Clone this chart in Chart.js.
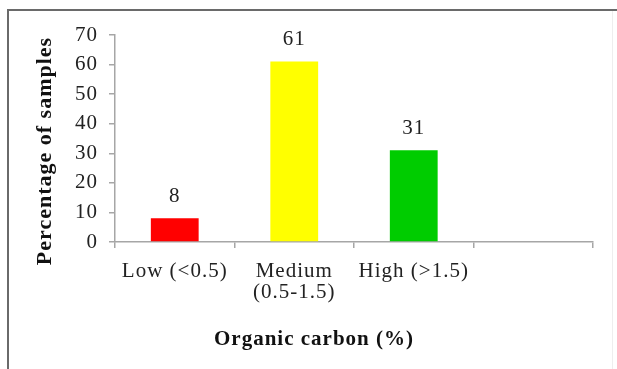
<!DOCTYPE html>
<html>
<head>
<meta charset="utf-8">
<script src="https://cdn.jsdelivr.net/npm/chart.js@4"></script>
<style>
  html, body { margin: 0; padding: 0; background: #fff; }
  #wrap { width: 617px; height: 369px; position: relative; }
</style>
</head>
<body>
<div id="wrap"><canvas id="chart" width="617" height="369"></canvas></div>
<script>
// Organic carbon classes (last slot is an empty category)
const categories = ['Low (<0.5)', ['Medium', '(0.5-1.5)'], 'High (>1.5)', ''];
const percentages = [8, 61, 31, null];
const barColors = ['#ff0000', '#ffff00', '#00cc00', '#ffffff'];
const yTicks = [0, 10, 20, 30, 40, 50, 60, 70];
const xTitle = 'Organic carbon (%)';
const yTitle = 'Percentage of samples';

const SERIF = '"Liberation Serif", "Times New Roman", serif';
const AXIS_GREY = '#a6a6a6';

// Letter spacing for all canvas text
const spacingPlugin = {
  id: 'spacing',
  beforeLayout(chart) { chart.ctx.letterSpacing = '1px'; },
  beforeDraw(chart) { chart.ctx.letterSpacing = '1px'; }
};

// Frame lines, axis titles and value labels
const decorPlugin = {
  id: 'decor',
  beforeDraw(chart) {
    const ctx = chart.ctx;
    ctx.save();
    ctx.fillStyle = '#fff';
    ctx.fillRect(0, 0, chart.width, chart.height);
    ctx.strokeStyle = '#6a6a6a';
    ctx.lineWidth = 2;
    ctx.beginPath();
    ctx.moveTo(8, 369);
    ctx.lineTo(8, 10);
    ctx.lineTo(617, 10);
    ctx.stroke();
    ctx.strokeStyle = '#eeeeee';
    ctx.lineWidth = 1;
    ctx.beginPath();
    ctx.moveTo(612.5, 11);
    ctx.lineTo(612.5, 369);
    ctx.stroke();
    ctx.restore();
  },
  afterDraw(chart) {
    const ctx = chart.ctx;
    ctx.save();
    ctx.letterSpacing = '1px';
    ctx.fillStyle = '#111';
    ctx.textAlign = 'center';
    ctx.textBaseline = 'middle';
    ctx.font = 'bold 21px ' + SERIF;
    ctx.fillText(xTitle, 314, 340);
    ctx.save();
    ctx.translate(45, 151);
    ctx.rotate(-Math.PI / 2);
    ctx.font = 'bold 22px ' + SERIF;
    ctx.fillText(yTitle, 0, 0);
    ctx.restore();

    ctx.font = '21px ' + SERIF;
    ctx.fillStyle = '#222';
    const meta = chart.getDatasetMeta(0);
    meta.data.forEach((bar, i) => {
      const v = percentages[i];
      if (v === null || v === undefined) return;
      ctx.fillText(String(v), bar.x, bar.y - 22);
    });
    ctx.restore();
  }
};

new Chart(document.getElementById('chart'), {
  type: 'bar',
  data: {
    labels: categories,
    datasets: [{
      data: percentages,
      backgroundColor: barColors,
      borderWidth: 0,
      barPercentage: 0.4,
      categoryPercentage: 1.0
    }]
  },
  options: {
    responsive: false,
    animation: false,
    devicePixelRatio: 1,
    layout: { padding: { left: 10, right: 24, top: 35, bottom: 0 } },
    plugins: { legend: { display: false }, tooltip: { enabled: false } },
    scales: {
      x: {
        afterFit(scale) { scale.height = 127; },
        grid: { display: true, offset: true, drawOnChartArea: false, tickLength: 6, color: AXIS_GREY, lineWidth: 1.5 },
        border: { display: true, color: AXIS_GREY, width: 1.5 },
        ticks: {
          color: '#222',
          padding: 13,
          maxRotation: 0,
          autoSkip: false,
          font: { family: SERIF, size: 21, lineHeight: 1.0 }
        }
      },
      y: {
        min: 0,
        max: 70,
        afterFit(scale) { scale.width = 105; },
        afterBuildTicks(scale) { scale.ticks = yTicks.map(v => ({ value: v })); },
        grid: { display: true, drawOnChartArea: false, tickLength: 6, color: AXIS_GREY, lineWidth: 1.5 },
        border: { display: true, color: AXIS_GREY, width: 1.5 },
        ticks: {
          color: '#222',
          padding: 11,
          font: { family: SERIF, size: 21, lineHeight: 1.0 }
        }
      }
    }
  },
  plugins: [spacingPlugin, decorPlugin]
});
</script>
</body>
</html>
